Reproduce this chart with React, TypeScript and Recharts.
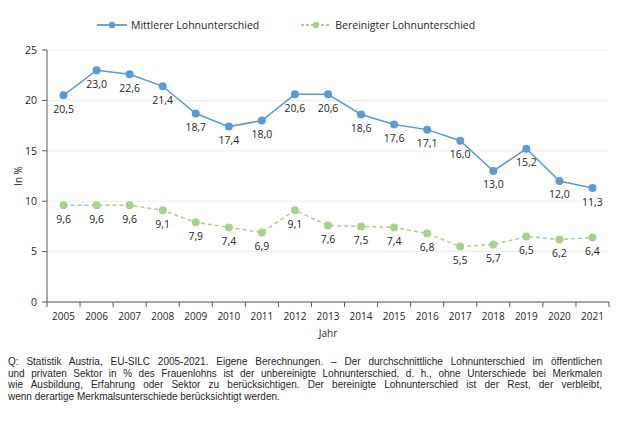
import React from 'react'
import { LineChart, Line, XAxis, YAxis, CartesianGrid, LabelList } from 'recharts'

const years = ['2005', '2006', '2007', '2008', '2009', '2010', '2011', '2012', '2013', '2014', '2015', '2016', '2017', '2018', '2019', '2020', '2021']
const mittlerer = [20.5, 23.0, 22.6, 21.4, 18.7, 17.4, 18.0, 20.6, 20.6, 18.6, 17.6, 17.1, 16.0, 13.0, 15.2, 12.0, 11.3]
const bereinigt = [9.6, 9.6, 9.6, 9.1, 7.9, 7.4, 6.9, 9.1, 7.6, 7.5, 7.4, 6.8, 5.5, 5.7, 6.5, 6.2, 6.4]
const yTicks = [0, 5, 10, 15, 20, 25]

const footnoteLines = [
    'Q: Statistik Austria, EU-SILC 2005-2021.  Eigene Berechnungen. – Der durchschnittliche  Lohnunterschied  im öffentlichen',
    'und privaten Sektor in % des Frauenlohns ist der unbereinigte Lohnunterschied,  d. h., ohne Unterschiede  bei Merkmalen',
    'wie Ausbildung, Erfahrung oder Sektor zu berücksichtigen. Der bereinigte Lohnunterschied  ist der Rest, der verbleibt,',
    'wenn derartige Merkmalsunterschiede  berücksichtigt werden.',
]

const data = years.map((year, i) => ({
    year,
    mittlerer: mittlerer[i],
    bereinigt: bereinigt[i],
}))

const BLUE = '#5B9BD5'
const GREEN = '#A9D18E'
const FONT = '"Open Sans", sans-serif'
const NOTE_FONT = '"Liberation Sans", Arial, sans-serif'
const TEXT = '#262626'
const PLOT_WIDTH = 562
const HALF_BAND = PLOT_WIDTH / years.length / 2

const fmt = (v: any) => Number(v).toFixed(1).replace('.', ',')

function YearTick(props: any) {
    const { x, y, payload, index } = props
    const last = index === years.length - 1
    return (
        <g>
            <line x1={x - HALF_BAND} y1={y} x2={x - HALF_BAND} y2={y + 5} stroke="#595959" />
            {last && <line x1={x + HALF_BAND} y1={y} x2={x + HALF_BAND} y2={y + 5} stroke="#595959" />}
            <text x={x} y={y + 18} textAnchor="middle" fontSize={10} fill={TEXT} fontFamily={FONT}>
                {payload.value}
            </text>
        </g>
    )
}

function YTitle(props: any) {
    const { viewBox } = props
    const cx = viewBox.x - 1
    const cy = viewBox.y + viewBox.height / 2
    return (
        <text x={cx} y={cy} transform={`rotate(-90 ${cx} ${cy})`} textAnchor="middle" dominantBaseline="central" fontSize={10} fill={TEXT} fontFamily={FONT}>
            In %
        </text>
    )
}

function XTitle(props: any) {
    const { viewBox } = props
    return (
        <text x={viewBox.x + viewBox.width / 2} y={viewBox.y + 35} textAnchor="middle" fontSize={10} fill={TEXT} fontFamily={FONT}>
            Jahr
        </text>
    )
}

function LegendItem({ color, dashed, label }: { color: string; dashed?: boolean; label: string }) {
    return (
        <div style={{ display: 'flex', alignItems: 'center', gap: 4 }}>
            <svg width={30} height={10}>
                <line x1={0} y1={5} x2={30} y2={5} stroke={color} strokeWidth={1.8} strokeDasharray={dashed ? '3 2' : undefined} />
                <circle cx={15} cy={5} r={3.2} fill={color} />
            </svg>
            <span>{label}</span>
        </div>
    )
}

export default function App() {
    return (
        <div style={{ position: 'absolute', left: 0, top: 0, width: 628, height: 421, background: '#fff', fontFamily: FONT, color: TEXT }}>
            <div style={{ position: 'absolute', top: 18, left: 97, display: 'flex', gap: 42, fontSize: 10.5 }}>
                <LegendItem color={BLUE} label="Mittlerer Lohnunterschied" />
                <LegendItem color={GREEN} dashed label="Bereinigter Lohnunterschied" />
            </div>
            <LineChart width={628} height={345} data={data} margin={{ top: 50, right: 19, bottom: 13, left: 19 }}>
                <CartesianGrid vertical={false} stroke="#EDEDED" />
                <XAxis
                    dataKey="year"
                    height={30}
                    padding={{ left: HALF_BAND, right: HALF_BAND }}
                    interval={0}
                    tickLine={false}
                    tickSize={0}
                    tickMargin={0}
                    stroke="#595959"
                    tick={<YearTick />}
                    label={<XTitle />}
                />
                <YAxis
                    width={28}
                    domain={[0, 25]}
                    ticks={yTicks}
                    tickSize={5}
                    tickMargin={5}
                    stroke="#595959"
                    tick={{ fontSize: 10.5, fill: TEXT, fontFamily: FONT }}
                    label={<YTitle />}
                />
                <Line
                    dataKey="mittlerer"
                    stroke={BLUE}
                    strokeWidth={1.5}
                    dot={{ r: 4, fill: BLUE, stroke: BLUE, strokeWidth: 0 }}
                    isAnimationActive={false}
                >
                    <LabelList dataKey="mittlerer" position="bottom" offset={10} formatter={fmt} style={{ fontSize: 10.5, fill: TEXT, fontFamily: FONT }} />
                </Line>
                <Line
                    dataKey="bereinigt"
                    stroke={GREEN}
                    strokeWidth={1.5}
                    strokeDasharray="4 3"
                    dot={{ r: 4, fill: GREEN, stroke: GREEN, strokeWidth: 0 }}
                    isAnimationActive={false}
                >
                    <LabelList dataKey="bereinigt" position="bottom" offset={10} formatter={fmt} style={{ fontSize: 10.5, fill: TEXT, fontFamily: FONT }} />
                </Line>
            </LineChart>
            <div style={{ position: 'absolute', left: 8, top: 356, width: 594, fontSize: 10, lineHeight: '11.7px', fontFamily: NOTE_FONT }}>
                {footnoteLines.map((line, i) => (
                    <div key={i} style={{ textAlign: 'justify', textAlignLast: i < footnoteLines.length - 1 ? 'justify' : 'left', whiteSpace: 'nowrap' }}>
                        {line}
                    </div>
                ))}
            </div>
        </div>
    )
}
